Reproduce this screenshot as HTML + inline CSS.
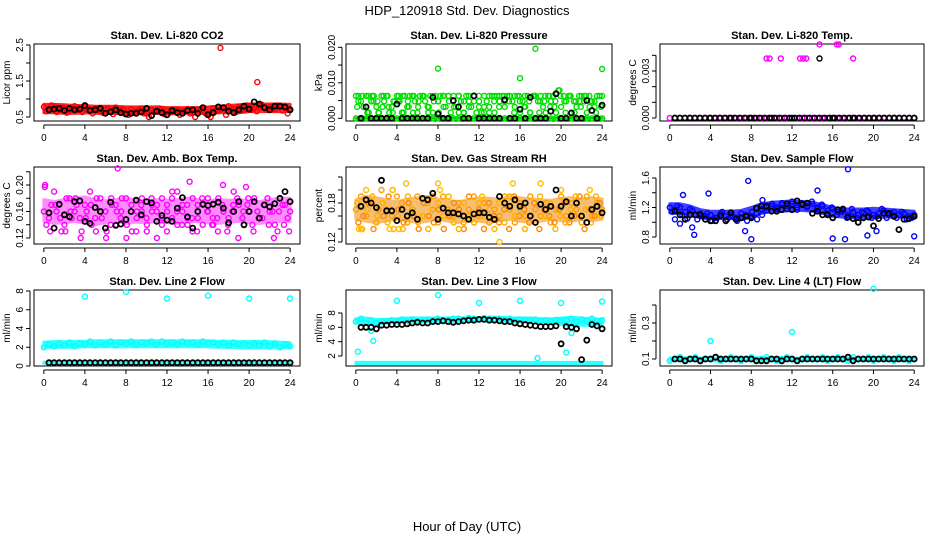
<!DOCTYPE html>
<html><head><meta charset="utf-8"><style>
html,body{margin:0;padding:0;background:#fff;}
svg{display:block;font-family:"Liberation Sans",sans-serif;}
</style></head><body>
<svg id="c" width="936" height="540" viewBox="0 0 936 540" xmlns="http://www.w3.org/2000/svg">
<text x="467" y="15" font-size="13" text-anchor="middle">HDP_120918  Std. Dev. Diagnostics</text>
<text x="467" y="531" font-size="13" text-anchor="middle">Hour of Day (UTC)</text>
</svg>
<script>
// ---------- data ----------
const hourTicks = [0,4,8,12,16,20,24];
const co2A = [0.78,0.72,0.8,0.7,0.75,0.68,0.8,0.72,0.78,0.7,0.74,0.66,0.72,0.68,0.76,0.7,0.6,0.72,0.66,0.74,0.6,0.7,0.66,0.72,0.68,0.64,0.7,0.66,0.72,0.62,0.7,0.68,0.6,0.74,0.68,0.76,0.8,0.72,0.78,0.7,0.8,0.74,0.82,0.76,0.78,0.72,0.8,0.75,0.7];
const co2B = [0.66,0.82,0.64,0.76,0.62,0.74,0.7,0.64,0.72,0.6,0.7,0.62,0.74,0.58,0.66,0.72,0.56,0.64,0.7,0.6,0.5,0.66,0.74,0.58,0.62,0.7,0.56,0.66,0.6,0.5,0.72,0.6,0.5,0.66,0.72,0.56,0.7,0.64,0.68,0.82,0.7,0.66,0.84,0.7,0.74,0.82,0.68,0.6];
const co2Lo = [.62,.62,.6,.6,.62,.6,.6,.6,.58,.6,.6,.6,.6,.6,.6,.6,.6,.62,.62,.62,.65,.65,.65,.65,.65];
const co2Hi = [.85,.85,.84,.82,.82,.8,.8,.8,.78,.78,.78,.78,.76,.76,.76,.76,.78,.8,.82,.84,.86,.86,.86,.86,.85];
const co2OutHours = [17.2,20.8];
const co2OutVals = [2.42,1.47];
const co2Black = [0.7,0.72,0.74,0.68,0.74,0.7,0.72,0.82,0.68,0.7,0.74,0.6,0.64,0.7,0.62,0.58,0.6,0.6,0.64,0.74,0.54,0.66,0.62,0.56,0.68,0.62,0.6,0.68,0.7,0.6,0.76,0.56,0.62,0.78,0.76,0.66,0.62,0.7,0.8,0.72,0.92,0.86,0.76,0.7,0.8,0.8,0.78,0.7];

// pressure in units of 0.001 kPa
const presA = [6.3,6.3,4.8,3.2,6.3,1.6,4.8,6.3,3.2,1.6,6.3,4.8,6.3,1.6,3.2,4.8,6.3,4.8,1.6,6.3,3.2,6.3,6.3,4.8,1.6,6.3,6.3,4.8,3.2,6.3,1.6,6.3,4.8,6.3,6.3,3.2,6.3,1.6,4.8,3.2,6.3,4.8,1.6,6.3,6.3,3.2,4.8,1.6,6.3,1.6,3.2,4.8,1.6,6.3,6.3,6.3,4.8,6.3,3.2,6.3,6.3,4.8,6.3,6.3,1.6,4.8,3.2,6.3,1.6,6.3,6.3,4.8,6.3,3.2,1.6,6.3,4.8,6.3,1.6,7.9,3.2,6.3,4.8,6.3,1.6,4.8,3.2,6.3,6.3,4.8,1.6,6.3,4.8,3.2,6.3,6.3,6.3];
const presB = [4.8,3.2,6.3,4.8,1.6,6.3,3.2,4.8,6.3,1.6,3.2,6.3,4.8,6.3,3.2,4.8,1.6,6.3,4.8,3.2,6.3,1.6,4.8,6.3,3.2,1.6,6.3,4.8,3.2,6.3,4.8,1.6,6.3,3.2,4.8,6.3,1.6,4.8,6.3,3.2,7.9,4.8,6.3,1.6,4.8,6.3,3.2,4.8,6.3];
const presC = [3.2,6.3,1.6,6.3,4.8,3.2,6.3,1.6,4.8,6.3,4.8,1.6,3.2,6.3,1.6,6.3,4.8,3.2,6.3,6.3,1.6,4.8,3.2,6.3,4.8,6.3,3.2,1.6,6.3,4.8,6.3,3.2,4.8,6.3,1.6,6.3,4.8,6.3,3.2,4.8,6.3,1.6,6.3,4.8,3.2,6.3,4.8,1.6,3.2];
const presZero = [0,0,0,0,0,0,0,0,0,0,0,0,0,0,0,0,0,0,0,0,0,0,0,0,0,0,0,0,0,0,0,0,0,0,0,0,0,0,0,0,0,0,0,0,0,0,0,0,0];
const presZeroLo = [0,0,0,0,0,0,0,0,0,0,0,0,0,0,0,0,0,0,0,0,0,0,0,0,0];
const presZeroHi = [0,0,0,0,0,0,0,0,0,0,0,0,0,0,0,0,0,0,0,0,0,0,0,0,0];
const presOutHours = [8,16,17.5,24];
const presOutVals = [14,11.3,19.6,13.9];
const presBlack = [0,3.2,0,0,0,0,0,4,0,0,0,0,0,0,5.9,1.2,0,0,5,3.2,0,0,6.3,0,0,0,0,0,5.2,0,0,2.5,0,5.9,0,0,0,2,6.9,0,0,1.5,0,0,5,2.2,0,3.7];

// Li-820 temperature in units of 0.001 degC
const tmpZero = [0,0,0,0,0,0,0,0,0,0,0,0,0,0,0,0,0,0,0,0,0,0,0,0,0,0,0,0,0,0,0,0,0,0,0,0,0,0,0,0,0,0,0,0,0,0,0,0,0];
const tmpOutHours = [9.5,9.8,10.9,12.8,13.1,13.4,14.7,16.4,16.6,18];
const tmpOutVals = [3.8,3.8,3.8,3.8,3.8,3.8,4.7,4.7,4.7,3.8];
const tmpBlackHours = [0.5,2,4,6,8,10,12,14.7,16,18,20,22,24];
const tmpBlackVals = [0,0,0,0,0,0,0,3.8,0,0,0,0,0];

const boxA = [.16,.15,.19,.17,.14,.18,.16,.15,.17,.19,.15,.18,.16,.14,.17,.15,.18,.16,.13,.17,.15,.18,.16,.14,.17,.15,.19,.16,.14,.18,.15,.17,.16,.14,.18,.16,.15,.19,.17,.14,.16,.18,.15,.17,.16,.14,.18,.17,.16];
const boxB = [.14,.17,.16,.13,.18,.15,.17,.13,.16,.14,.18,.15,.13,.17,.16,.18,.14,.13,.16,.18,.14,.16,.17,.15,.13,.18,.16,.14,.17,.15,.13,.18,.16,.14,.15,.17,.13,.16,.18,.15,.17,.14,.16,.15,.18,.16,.13,.17,.15];
const boxC = [.2,.13,.17,.15,.13,.16,.18,.12,.15,.17,.13,.16,.12,.18,.14,.16,.12,.17,.15,.16,.13,.17,.12,.18,.16,.19,.14,.17,.15,.13,.17,.14,.18,.15,.13,.2,.14,.17,.12,.16,.18,.13,.15,.17,.14,.12,.16,.14,.13];
const boxLo = [.145,.142,.143,.145,.142,.14,.143,.145,.142,.144,.143,.145,.143,.142,.144,.145,.143,.142,.144,.145,.143,.142,.144,.145,.145];
const boxHi = [.178,.175,.178,.18,.182,.178,.176,.178,.18,.178,.176,.178,.177,.178,.18,.178,.176,.178,.177,.178,.176,.175,.178,.18,.18];
const boxOutHours = [7.2,14.2,19.7,0.1];
const boxOutVals = [0.225,0.205,0.197,0.197];
const boxBlack = [.158,.135,.171,.155,.152,.175,.176,.145,.142,.166,.16,.135,.174,.139,.141,.148,.16,.177,.155,.175,.173,.145,.154,.147,.145,.165,.181,.152,.135,.16,.171,.169,.171,.174,.165,.143,.16,.175,.14,.16,.175,.15,.17,.167,.172,.18,.19,.175];

const rhA = [.17,.19,.16,.18,.15,.2,.17,.16,.19,.18,.15,.17,.19,.16,.18,.17,.15,.19,.17,.16,.18,.15,.17,.19,.16,.18,.15,.17,.16,.19,.17,.15,.18,.16,.19,.17,.16,.18,.15,.17,.19,.16,.18,.17,.15,.19,.16,.18,.17];
const rhB = [.15,.16,.18,.14,.17,.16,.19,.14,.17,.15,.18,.16,.14,.18,.16,.15,.17,.14,.16,.18,.17,.14,.19,.15,.17,.14,.18,.16,.15,.17,.14,.19,.16,.17,.15,.18,.14,.17,.16,.15,.17,.18,.15,.16,.19,.14,.17,.16,.18];
const rhC = [.18,.14,.17,.19,.16,.18,.15,.2,.16,.14,.19,.17,.15,.16,.14,.19,.18,.16,.19,.15,.14,.18,.16,.15,.18,.16,.17,.14,.18,.15,.19,.16,.17,.14,.16,.15,.19,.16,.18,.14,.16,.15,.17,.19,.16,.17,.15,.19,.16];
const rhLo = [.155,.152,.15,.152,.155,.153,.15,.152,.155,.152,.15,.153,.152,.15,.153,.155,.152,.15,.152,.155,.153,.152,.155,.153,.155];
const rhHi = [.185,.19,.188,.185,.182,.186,.188,.19,.186,.184,.182,.185,.188,.187,.186,.19,.188,.186,.185,.184,.187,.188,.186,.188,.186];
const rhOutHours = [0.3,0.5,3.3,3.7,4.2,4.9,8,8.2,12.3,14,15.3,18,20,22.8,1];
const rhOutVals = [.14,.14,.14,.14,.14,.21,.21,.2,.19,.12,.21,.21,.2,.2,.2];
const rhBlack = [.175,.185,.18,.173,.215,.168,.168,.153,.17,.16,.165,.155,.187,.185,.195,.155,.172,.165,.165,.163,.16,.155,.163,.165,.165,.158,.155,.19,.18,.175,.185,.175,.18,.16,.15,.178,.17,.175,.2,.175,.182,.16,.18,.16,.15,.17,.175,.165];

const flowA = [1.2,1.17,1.2,1.14,1.18,1.1,1.12,1.08,1.1,1.06,1.12,1.08,1.1,1.06,1.12,1.1,1.08,1.12,1.18,1.2,1.22,1.2,1.24,1.22,1.25,1.2,1.24,1.22,1.25,1.2,1.22,1.16,1.18,1.14,1.16,1.1,1.14,1.1,1.12,1.14,1.1,1.12,1.16,1.1,1.14,1.1,1.12,1.08,1.1];
const flowB = [1.14,1.22,1.1,1.05,1.16,1.04,1.08,1.12,1.02,1.06,1.14,1.04,1.08,1.02,1.06,1.02,1.14,1.04,1.1,1.16,1.25,1.18,1.26,1.18,1.28,1.17,1.26,1.2,1.28,1.18,1.24,1.12,1.2,1.1,1.14,1.06,1.18,1.06,1.14,1.16,1.06,1.08,1.18,1.06,1.12,1.06,1.14,1.04,1.06];
const flowLo = [1.13,1.12,1.1,1.06,1.05,1.05,1.05,1.05,1.07,1.12,1.15,1.15,1.16,1.16,1.15,1.12,1.08,1.07,1.06,1.06,1.06,1.07,1.07,1.07,1.07];
const flowHi = [1.25,1.25,1.22,1.17,1.15,1.15,1.15,1.16,1.2,1.25,1.27,1.28,1.29,1.28,1.27,1.24,1.2,1.18,1.18,1.18,1.19,1.18,1.17,1.16,1.15];
const flowOutHours = [0.5,1,1.3,2.2,2.4,3.8,7.4,7.7,8,9.1,14.5,16,17.2,17.5,19.4,20.3,24];
const flowOutVals = [1.04,0.98,1.37,0.93,0.83,1.39,0.88,1.56,0.77,1.3,1.43,0.78,0.77,1.72,0.82,0.88,0.81];
const flowBlack = [1.15,1.1,1.04,1.1,1.1,1.1,1.04,1.02,1.02,1.09,1.02,1.13,1.04,1.06,1.08,1.06,1.19,1.22,1.22,1.15,1.15,1.17,1.25,1.17,1.29,1.24,1.26,1.12,1.15,1.1,1.1,1.06,1.17,1.18,1.07,1.05,1.0,1.06,1.07,0.95,1.05,1.12,1.12,1.08,0.9,1.04,1.05,1.08];

const l2A = [2.0,2.3,2.1,2.4,2.2,2.5,2.1,2.4,2.3,2.6,2.2,2.5,2.3,2.6,2.2,2.5,2.4,2.6,2.3,2.5,2.4,2.6,2.3,2.6,2.4,2.5,2.3,2.6,2.4,2.5,2.3,2.6,2.4,2.5,2.3,2.5,2.2,2.5,2.3,2.4,2.2,2.4,2.2,2.5,2.1,2.4,2.0,2.3,2.1];
const l2Lo = [2.0,2.0,2.0,2.0,2.05,2.05,2.05,2.05,2.05,2.05,2.05,2.05,2.05,2.05,2.05,2.05,2.05,2.0,2.0,1.95,1.95,1.95,1.95,1.95,2.0];
const l2Hi = [2.55,2.6,2.6,2.65,2.65,2.7,2.7,2.7,2.7,2.7,2.7,2.7,2.7,2.7,2.7,2.7,2.7,2.65,2.65,2.6,2.6,2.65,2.6,2.55,2.5];
const l2LowLo = [0.3,0.3,0.3,0.3,0.3,0.3,0.3,0.3,0.3,0.3,0.3,0.3,0.3,0.3,0.3,0.3,0.3,0.3,0.3,0.3,0.3,0.3,0.3,0.3,0.3];
const l2LowHi = [0.4,0.4,0.4,0.4,0.4,0.4,0.4,0.4,0.4,0.4,0.4,0.4,0.4,0.4,0.4,0.4,0.4,0.4,0.4,0.4,0.4,0.4,0.4,0.4,0.4];
const l2OutHours = [4,8,12,16,20,24];
const l2OutVals = [7.4,7.9,7.2,7.5,7.2,7.2];
const l2Black = [0.35,0.35,0.35,0.35,0.35,0.35,0.35,0.35,0.35,0.35,0.35,0.35,0.35,0.35,0.35,0.35,0.35,0.35,0.35,0.35,0.35,0.35,0.35,0.35,0.35,0.35,0.35,0.35,0.35,0.35,0.35,0.35,0.35,0.35,0.35,0.35,0.35,0.35,0.35,0.35,0.35,0.35,0.35,0.35,0.35,0.35,0.35,0.35];

const l3A = [6.8,7.2,6.6,6.9,6.6,6.8,6.9,7.0,6.8,7.1,6.9,7.1,6.9,7.0,7.1,7.0,7.2,7.0,7.1,7.2,7.2,7.1,7.3,7.2,7.1,7.3,7.2,7.1,7.2,7.1,7.2,7.0,7.1,7.0,7.0,7.1,6.9,7.0,6.8,7.0,6.9,7.0,7.2,6.8,7.1,6.9,7.2,6.9,7.0];
const l3Lo = [6.6,6.5,6.5,6.6,6.7,6.7,6.7,6.8,6.8,6.8,6.8,6.8,6.9,6.9,6.9,6.8,6.8,6.7,6.7,6.6,6.4,6.3,6.3,6.3,6.4];
const l3Hi = [7.2,7.3,7.1,7.1,7.2,7.3,7.3,7.3,7.3,7.3,7.3,7.3,7.3,7.4,7.4,7.3,7.3,7.3,7.2,7.2,7.3,7.4,7.3,7.2,7.1];
const l3LowLo = [0.9,0.9,0.9,0.9,0.9,0.9,0.9,0.9,0.9,0.9,0.9,0.9,0.9,0.9,0.9,0.9,0.9,0.9,0.9,0.9,0.9,0.9,0.9,0.9,0.9];
const l3LowHi = [1.1,1.1,1.1,1.1,1.1,1.1,1.1,1.1,1.1,1.1,1.1,1.1,1.1,1.1,1.1,1.1,1.1,1.1,1.1,1.1,1.1,1.1,1.1,1.1,1.1];
const l3OutHours = [0.2,1.7,4,8,12,16,17.7,20,20.5,21,24,1.5];
const l3OutVals = [2.6,4.1,9.7,10.5,9.4,9.7,1.7,9.4,2.5,5.2,9.6,5.5];
const l3Black = [6.0,6.0,6.0,5.8,6.3,6.3,6.4,6.4,6.4,6.5,6.6,6.7,6.6,6.6,6.8,6.8,6.9,6.8,6.7,6.8,6.9,7.0,7.0,7.1,7.1,7.0,7.0,6.9,6.8,6.8,6.6,6.5,6.4,6.3,6.2,6.1,6.1,6.1,6.2,3.7,6.1,6.0,5.8,1.5,4.2,6.4,6.2,5.8];

const l4A = [0.09,0.1,0.11,0.09,0.1,0.11,0.09,0.1,0.1,0.11,0.09,0.1,0.11,0.1,0.09,0.1,0.11,0.09,0.1,0.11,0.1,0.09,0.1,0.11,0.1,0.09,0.1,0.11,0.1,0.1,0.11,0.09,0.1,0.11,0.1,0.09,0.11,0.1,0.1,0.11,0.09,0.1,0.11,0.1,0.09,0.11,0.1,0.09,0.1];
const l4Lo = [0.09,0.09,0.09,0.09,0.09,0.09,0.09,0.09,0.09,0.09,0.09,0.09,0.09,0.09,0.09,0.09,0.09,0.09,0.09,0.09,0.09,0.09,0.09,0.09,0.09];
const l4Hi = [0.105,0.105,0.108,0.105,0.105,0.105,0.105,0.105,0.105,0.108,0.105,0.105,0.105,0.105,0.105,0.108,0.108,0.108,0.105,0.105,0.108,0.108,0.108,0.105,0.105];
const l4OutHours = [4,12,20];
const l4OutVals = [0.2,0.25,0.49];
const l4Black = [0.1,0.1,0.09,0.1,0.1,0.09,0.1,0.1,0.11,0.1,0.1,0.1,0.1,0.1,0.1,0.1,0.09,0.09,0.09,0.1,0.1,0.09,0.1,0.1,0.09,0.1,0.1,0.1,0.1,0.1,0.1,0.1,0.1,0.1,0.11,0.09,0.1,0.1,0.1,0.1,0.1,0.1,0.1,0.1,0.1,0.1,0.1,0.1];

// ---------- rendering ----------
const NS = "http://www.w3.org/2000/svg";
const svg = document.getElementById('c');
function mk(tag, attrs, parent){ const e=document.createElementNS(NS,tag); for(const k in attrs) e.setAttribute(k,attrs[k]); (parent||svg).appendChild(e); return e; }

function makePanel(p){
  const g = mk('g',{});
  
  
  p.g = g;
  p.xs = h => p.l + (p.r-p.l)*(h+0.96)/25.92;
  p.ys = v => p.y0px + (v-p.v0)*(p.y1px-p.y0px)/(p.v1-p.v0);
  const box = mk('rect',{x:p.l,y:p.t,width:p.r-p.l,height:p.b-p.t,fill:'none',stroke:'#000','stroke-width':1},g);
  
  
  const tt = mk('text',{x:(p.l+p.r)/2,y:p.t-5,'font-size':11,'font-weight':'bold','text-anchor':'middle'},g);
  tt.textContent = p.title;
  
  
  const xa = mk('g',{},g);
  
  
  mk('line',{x1:p.xs(0),x2:p.xs(24),y1:p.b+4,y2:p.b+4,stroke:'#000'},xa);
  hourTicks.forEach(h=>{
    mk('line',{x1:p.xs(h),x2:p.xs(h),y1:p.b+4,y2:p.b+8,stroke:'#000'},xa);
    const t = mk('text',{x:p.xs(h),y:p.b+20,'font-size':10,'text-anchor':'middle'},xa);
    t.textContent = h;
    
    
  });
  const ya = mk('g',{},g);
  
  
  const ax = p.l-4;
  mk('line',{x1:ax,x2:ax,y1:p.ys(p.ticks[0]),y2:p.ys(p.ticks[p.ticks.length-1]),stroke:'#000'},ya);
  p.ticks.forEach((v,i)=>{
    const y=p.ys(v);
    mk('line',{x1:ax-4,x2:ax,y1:y,y2:y,stroke:'#000'},ya);
    if(p.tickLabels[i]){
      const t = mk('text',{x:ax-7,y:y,'font-size':10,'text-anchor':'middle',transform:`rotate(-90 ${ax-7} ${y})`},ya);
      t.textContent = p.tickLabels[i];
      
      
    }
  });
  const yl = mk('text',{x:p.l-24,y:(p.t+p.b)/2,'font-size':10,'text-anchor':'middle',transform:`rotate(-90 ${p.l-24} ${(p.t+p.b)/2})`},g);
  yl.textContent = p.ylab;
  
  
  return p;
}
function band(p, lo, hi, color, name, op){
  const n = lo.length;
  const top = hi.map((v,i)=>`${p.xs(24*i/(n-1)).toFixed(1)},${p.ys(v).toFixed(1)}`);
  const bot = lo.map((v,i)=>`${p.xs(24*i/(n-1)).toFixed(1)},${p.ys(v).toFixed(1)}`).reverse();
  const poly = mk('polygon',{points:top.concat(bot).join(' '),fill:color,stroke:color,'stroke-width':3,'stroke-linejoin':'round',opacity:op},p.g);
  
  
}
function series(p, vals, color, h0, h1, name, sw){
  const g = mk('g',{fill:'none',stroke:color,'stroke-width':sw||1.4},p.g);
  
  
  const n = vals.length;
  vals.forEach((v,i)=>{
    const h = n>1 ? h0 + (h1-h0)*i/(n-1) : h0;
    const c = mk('circle',{cx:p.xs(h).toFixed(1),cy:p.ys(v).toFixed(1),r:2.5},g);
    
    
  });
}
function pts(p, hours, vals, color, name){
  const g = mk('g',{fill:'none',stroke:color,'stroke-width':1.4},p.g);
  
  
  hours.forEach((h,i)=>{
    const c = mk('circle',{cx:p.xs(h).toFixed(1),cy:p.ys(vals[i]).toFixed(1),r:2.5},g);
    
    
  });
}
const C1=[34,300], C2=[346,612], C3=[660,924];
const R1=[44,121], R2=[167,244], R3=[290,366];
function P(name,col,row,title,ylab,v0,y0px,v1,y1px,ticks,tickLabels){
  return makePanel({name,l:col[0],r:col[1],t:row[0],b:row[1],title,ylab,v0,y0px,v1,y1px,ticks,tickLabels});
}
const BK='#000', BW=1.8;
const p1=P('panel-co2',C1,R1,'Stan. Dev. Li-820 CO2','Licor ppm',0.5,117,2.5,45,[0.5,1,1.5,2,2.5],['0.5','','1.5','','2.5']);
band(p1,co2Lo,co2Hi,'#ff0000','co2-dense-band',0.85);
series(p1,co2A,'#ff0000',0,24,'co2-series-a');series(p1,co2B,'#ff0000',0.25,23.75,'co2-series-b');
pts(p1,co2OutHours,co2OutVals,'#ff0000','co2-outliers');series(p1,co2Black,BK,0.5,24,'co2-hourly',BW);

const p2=P('panel-pressure',C2,R1,'Stan. Dev. Li-820 Pressure','kPa',0,118.3,20,47.3,[0,5,10,15,20],['0.000','','0.010','','0.020']);
band(p2,presZeroLo,presZeroHi,'#00dd00','pressure-zero-band',1);
series(p2,presZero,'#00dd00',0,24,'pressure-zero');series(p2,presA,'#00dd00',0,24,'pressure-series-a');series(p2,presB,'#00dd00',0.25,23.75,'pressure-series-b');series(p2,presC,'#00dd00',0.12,23.9,'pressure-series-c');
pts(p2,presOutHours,presOutVals,'#00dd00','pressure-outliers');series(p2,presBlack,BK,0.5,24,'pressure-hourly',BW);

const p3=P('panel-li820-temp',C3,R1,'Stan. Dev. Li-820 Temp.','degrees C',0,118,3,71,[0,1,2,3,4],['0.000','','','0.003','']);
series(p3,tmpZero,'#ff00ff',0,24,'li820-temp-zero');pts(p3,tmpOutHours,tmpOutVals,'#ff00ff','li820-temp-outliers');
series(p3,tmpZero,BK,0.5,24,'li820-temp-hourly',BW);pts(p3,tmpBlackHours,tmpBlackVals,BK,'li820-temp-hourly-points');

const p4=P('panel-box-temp',C1,R2,'Stan. Dev. Amb. Box Temp.','degrees C',0.12,238,0.20,185,[0.12,0.14,0.16,0.18,0.20,0.22],['0.12','','0.16','','0.20','']);
band(p4,boxLo,boxHi,'#ff00ff','box-temp-dense-band',0.45);
series(p4,boxA,'#ff00ff',0,24,'box-temp-a');series(p4,boxB,'#ff00ff',0.25,23.75,'box-temp-b');series(p4,boxC,'#ff00ff',0.12,23.9,'box-temp-c');
pts(p4,boxOutHours,boxOutVals,'#ff00ff','box-temp-outliers');series(p4,boxBlack,BK,0.5,24,'box-temp-hourly',BW);

const p5=P('panel-rh',C2,R2,'Stan. Dev. Gas Stream RH','percent',0.12,242,0.18,203,[0.12,0.14,0.16,0.18,0.20,0.22],['0.12','','','0.18','','']);
band(p5,rhLo,rhHi,'#f08a00','rh-dense-band',0.55);
series(p5,rhA,'#ffa000',0,24,'rh-a');series(p5,rhB,'#ff8800',0.25,23.75,'rh-b');series(p5,rhC,'#ffb000',0.12,23.9,'rh-c');
pts(p5,rhOutHours,rhOutVals,'#ffc000','rh-outliers');series(p5,rhBlack,BK,0.5,24,'rh-hourly',BW);

const p6=P('panel-sample-flow',C3,R2,'Stan. Dev. Sample Flow','ml/min',0.8,237,1.6,178,[0.8,1.0,1.2,1.4,1.6],['0.8','','1.2','','1.6']);
band(p6,flowLo,flowHi,'#0000ff','sample-flow-dense-band',0.75);
series(p6,flowA,'#0000ff',0,24,'sample-flow-a');series(p6,flowB,'#0000ff',0.25,23.75,'sample-flow-b');
pts(p6,flowOutHours,flowOutVals,'#0000ff','sample-flow-outliers');series(p6,flowBlack,BK,0.5,24,'sample-flow-hourly',BW);

const p7=P('panel-line2',C1,R3,'Stan. Dev. Line 2 Flow','ml/min',0,366,8,291,[0,2,4,6,8],['0','2','4','6','8']);
band(p7,l2Lo,l2Hi,'#00ffff','line2-dense-band',0.8);band(p7,l2LowLo,l2LowHi,'#00ffff','line2-low-band',0.8);
series(p7,l2A,'#00ffff',0,24,'line2-a');
pts(p7,l2OutHours,l2OutVals,'#00ffff','line2-outliers');series(p7,l2Black,BK,0.5,24,'line2-hourly',BW);

const p8=P('panel-line3',C2,R3,'Stan. Dev. Line 3 Flow','ml/min',2,356,8,313,[2,4,6,8],['2','4','6','8']);
band(p8,l3Lo,l3Hi,'#00ffff','line3-dense-band',0.8);band(p8,l3LowLo,l3LowHi,'#00ffff','line3-low-band',0.8);
series(p8,l3A,'#00ffff',0,24,'line3-a');
pts(p8,l3OutHours,l3OutVals,'#00ffff','line3-outliers');series(p8,l3Black,BK,0.5,24,'line3-hourly',BW);

const p9=P('panel-line4',C3,R3,'Stan. Dev. Line 4 (LT) Flow','ml/min',0.1,359,0.3,323,[0.1,0.2,0.3,0.4],['0.1','','0.3','']);
band(p9,l4Lo,l4Hi,'#00ffff','line4-dense-band',0.8);
series(p9,l4A,'#00ffff',0,24,'line4-a');
pts(p9,l4OutHours,l4OutVals,'#00ffff','line4-outliers');series(p9,l4Black,BK,0.5,24,'line4-hourly',BW);
</script>
</body></html>
